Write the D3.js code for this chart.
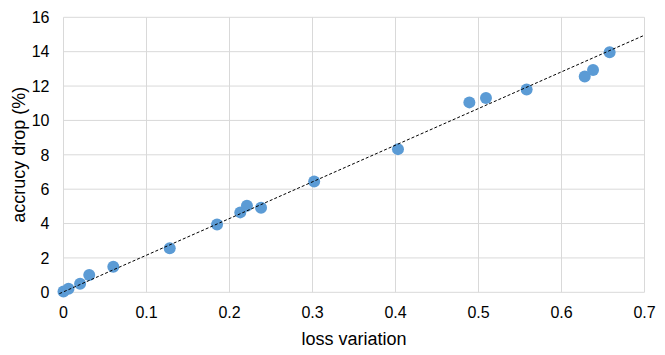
<!DOCTYPE html>
<html>
<head>
<meta charset="utf-8">
<script src="https://cdn.jsdelivr.net/npm/d3@7"></script>
<style>
  body { margin: 0; background: #fff; }
  text { font-family: "Liberation Sans", Arial, sans-serif; fill: #000; }
</style>
</head>
<body>
<div id="chart"></div>
<script>
// ---------- Data ----------
const lossVariation = [0.0, 0.006, 0.020, 0.031, 0.060, 0.128, 0.185, 0.213, 0.221, 0.238,
                       0.302, 0.403, 0.489, 0.509, 0.558, 0.628, 0.638, 0.658];
const accuracyDrop  = [0.05, 0.2, 0.5, 1.0, 1.49, 2.56, 3.95, 4.65, 5.03, 4.92,
                       6.45, 8.33, 11.05, 11.31, 11.8, 12.56, 12.94, 13.97];
// linear trendline end points
const trendX = [-0.005, 0.7];
const trendY = [-0.08, 14.96];
const xTicks = [0, 0.1, 0.2, 0.3, 0.4, 0.5, 0.6, 0.7];
const yTicks = [0, 2, 4, 6, 8, 10, 12, 14, 16];

const width = 665, height = 355;
const margin = { left: 63.5, right: 20.5, top: 17.3, bottom: 62.7 };

const svg = d3.select('#chart').append('svg')
  .attr('width', width)
  .attr('height', height);

const x = d3.scaleLinear().domain([0, 0.7]).range([margin.left, width - margin.right]);
const y = d3.scaleLinear().domain([0, 16]).range([height - margin.bottom, margin.top]);

// Gridlines
svg.append('g').selectAll('line').data(xTicks).join('line')
  .attr('x1', d => x(d)).attr('x2', d => x(d))
  .attr('y1', y(0)).attr('y2', y(16))
  .attr('stroke', '#d9d9d9').attr('stroke-width', 1);

svg.append('g').selectAll('line').data(yTicks).join('line')
  .attr('x1', x(0)).attr('x2', x(0.7))
  .attr('y1', d => y(d)).attr('y2', d => y(d))
  .attr('stroke', '#d9d9d9').attr('stroke-width', 1);

// Tick labels
svg.append('g').selectAll('text').data(xTicks).join('text')
  .attr('x', d => x(d)).attr('y', 318)
  .attr('text-anchor', 'middle')
  .attr('font-size', 16)
  .text(d => d);

svg.append('g').selectAll('text').data(yTicks).join('text')
  .attr('x', 49.5).attr('y', d => y(d) + 5.7)
  .attr('text-anchor', 'end')
  .attr('font-size', 16)
  .text(d => d);

// Axis titles
svg.append('text')
  .attr('x', 354).attr('y', 345)
  .attr('text-anchor', 'middle')
  .attr('font-size', 18)
  .text('loss variation');

svg.append('text')
  .attr('transform', `translate(25, ${y(8)}) rotate(-90)`)
  .attr('text-anchor', 'middle')
  .attr('font-size', 18)
  .text('accrucy drop (%)');

// Points
const pts = lossVariation.map((v, k) => [v, accuracyDrop[k]]);
svg.append('g').selectAll('circle').data(pts).join('circle')
  .attr('cx', d => x(d[0]))
  .attr('cy', d => y(d[1]))
  .attr('r', 6)
  .attr('fill', '#5b9bd5');

// Trendline drawn on top of the markers
svg.append('line')
  .attr('x1', x(trendX[0])).attr('y1', y(trendY[0]))
  .attr('x2', x(trendX[1])).attr('y2', y(trendY[1]))
  .attr('stroke', '#000').attr('stroke-width', 1)
  .attr('stroke-dasharray', '3,2');
</script>
</body>
</html>
